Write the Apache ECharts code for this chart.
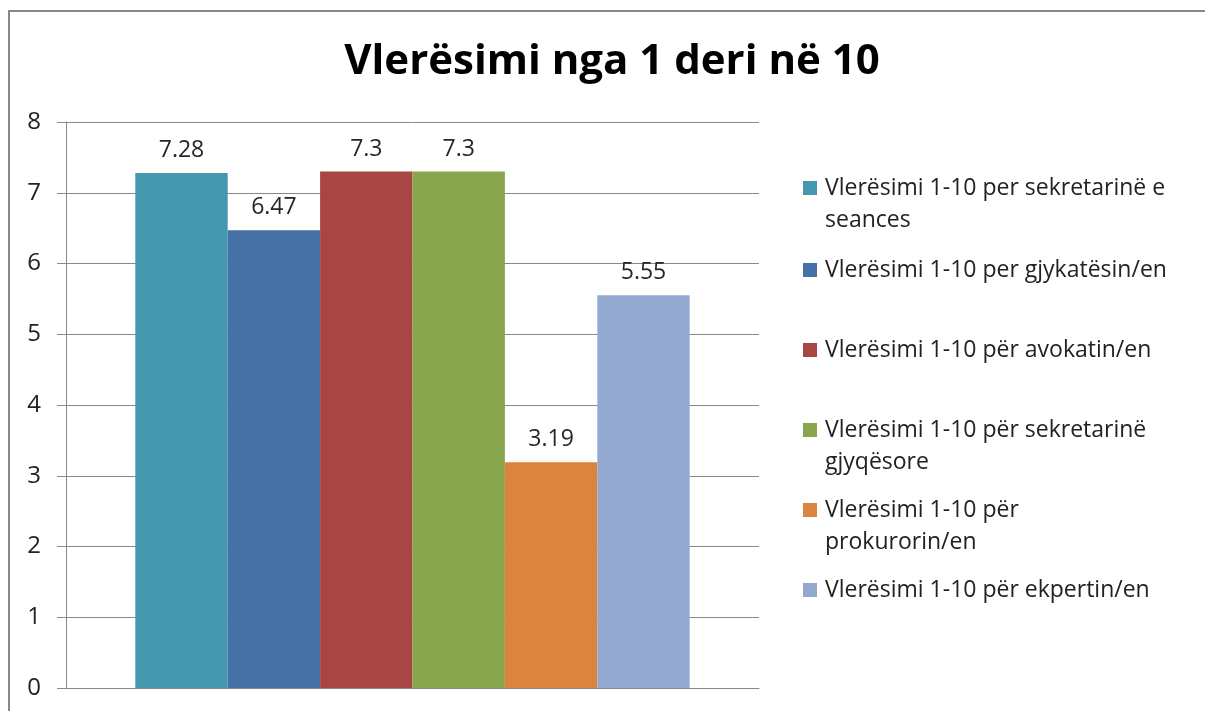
<!DOCTYPE html>
<html>
  <head>
    <meta charset="utf-8">
    <script src="https://cdn.jsdelivr.net/npm/echarts@6/dist/echarts.min.js"></script>
    <style>
      body, html {
        padding: 0;
        margin: 0;
        width: 100%;
        height: 100%;
        overflow: hidden;
        background: #fff;
      }
      #chart {
        position: absolute;
        left: 0;
        top: 0;
        width: 1205px;
        height: 711px;
      }
      #frame {
        position: absolute;
        left: 8px;
        top: 10px;
        width: 1400px;
        height: 900px;
        border-left: 2px solid #888;
        border-top: 2px solid #888;
        pointer-events: none;
      }
    </style>
  </head>
  <body>
    <div id="chart"></div>
    <div id="frame"></div>
    <script type="text/javascript">
      var titleText = 'Vlerësimi nga 1 deri në 10';
      var seriesNames = [
        'Vlerësimi 1-10 per sekretarinë e seances',
        'Vlerësimi 1-10 per gjykatësin/en',
        'Vlerësimi 1-10 për avokatin/en',
        'Vlerësimi 1-10 për sekretarinë gjyqësore',
        'Vlerësimi 1-10 për prokurorin/en',
        'Vlerësimi 1-10 për ekpertin/en'
      ];
      // legend text as it wraps in the picture
      var legendLines = [
        ['Vlerësimi 1-10 per sekretarinë e', 'seances'],
        ['Vlerësimi 1-10 per gjykatësin/en'],
        ['Vlerësimi 1-10 për avokatin/en'],
        ['Vlerësimi 1-10 për sekretarinë', 'gjyqësore'],
        ['Vlerësimi 1-10 për', 'prokurorin/en'],
        ['Vlerësimi 1-10 për ekpertin/en']
      ];
      var values = [7.28, 6.47, 7.3, 7.3, 3.19, 5.55];
      var categories = [''];

      var colors = ['#4398AF', '#4571A6', '#A94643', '#89A54D', '#DB843D', '#94A9D0'];
      var legendCenters = [188, 270, 350, 430, 510, 590];
      var FONT = '"Open Sans"';
      var LINE_H = 32;

      var myChart = echarts.init(document.getElementById('chart'));

      var legends = seriesNames.map(function (name, i) {
        var lines = legendLines[i];
        var text = lines.length > 1 ? ' \n' + lines.join('\n') : lines[0];
        var blockH = (lines.length > 1 ? 3 : 1) * LINE_H;
        return {
          data: [name],
          orient: 'vertical',
          left: 803,
          top: legendCenters[i] - blockH / 2,
          padding: 0,
          icon: 'rect',
          itemWidth: 14,
          itemHeight: 14,
          selectedMode: false,
          formatter: function () { return text; },
          textStyle: {
            fontFamily: FONT,
            fontSize: 23,
            color: '#222',
            lineHeight: LINE_H,
            padding: [0, 0, 0, 3]
          }
        };
      });

      var series = seriesNames.map(function (name, i) {
        return {
          name: name,
          type: 'bar',
          data: [values[i]],
          barGap: '0%',
          barCategoryGap: '20%',
          itemStyle: { color: colors[i] },
          label: {
            show: true,
            position: 'top',
            distance: 11,
            fontFamily: FONT,
            fontSize: 23,
            color: '#262626'
          }
        };
      });

      myChart.setOption({
        animation: false,
        color: colors,
        title: {
          text: titleText,
          left: 607,
          top: 36,
          textAlign: 'center',
          textStyle: {
            fontFamily: FONT,
            fontSize: 42,
            fontWeight: 'bold',
            color: '#000'
          }
        },
        legend: legends,
        grid: { left: 66, right: 446, top: 122, bottom: 23 },
        xAxis: {
          type: 'category',
          data: categories,
          axisLine: { lineStyle: { color: '#888', width: 1 } },
          axisTick: { show: false },
          axisLabel: { show: false }
        },
        yAxis: {
          type: 'value',
          min: 0,
          max: 8,
          interval: 1,
          axisLine: { show: true, lineStyle: { color: '#888', width: 1 } },
          axisTick: { show: true, length: 9, lineStyle: { color: '#888' } },
          splitLine: { lineStyle: { color: '#888', width: 1 } },
          axisLabel: {
            margin: 25,
            fontFamily: FONT,
            fontSize: 24,
            color: '#222'
          }
        },
        series: series
      });
    </script>
  </body>
</html>
